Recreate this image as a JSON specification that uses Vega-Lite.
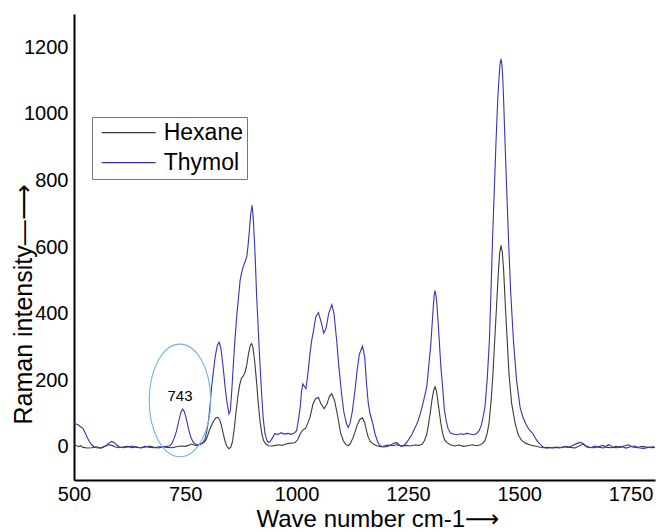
{
"$schema":"https://vega.github.io/schema/vega-lite/v6.json",
"width":581,"height":466,"autosize":"none",
"padding":{"left":74,"top":14,"right":2,"bottom":52},
"config":{"view":{"stroke":null},"font":"Liberation Sans"},
"datasets":{
"hexane":[
{"w":500,"i":6},{"w":505,"i":4},{"w":510,"i":0},{"w":515,"i":3},{"w":520,"i":-2},{"w":530,"i":-4},{"w":540,"i":-3},{"w":550,"i":0},{"w":560,"i":-4},{"w":570,"i":2},{"w":578,"i":6},{"w":585,"i":4},{"w":592,"i":0},{"w":600,"i":-3},{"w":610,"i":-1},{"w":620,"i":1},{"w":630,"i":-3},{"w":640,"i":0},{"w":650,"i":-4},{"w":660,"i":-1},{"w":670,"i":2},{"w":680,"i":-2},{"w":690,"i":-4},{"w":700,"i":0},{"w":710,"i":-2},{"w":720,"i":-3},{"w":730,"i":0},{"w":740,"i":2},{"w":750,"i":1},{"w":757,"i":4},{"w":763,"i":8},{"w":770,"i":5},{"w":776,"i":3},{"w":782,"i":7},{"w":788,"i":10},{"w":793,"i":14},{"w":798,"i":25},{"w":803,"i":45},{"w":808,"i":62},{"w":813,"i":76},{"w":818,"i":86},{"w":823,"i":88},{"w":827,"i":82},{"w":831,"i":65},{"w":835,"i":40},{"w":839,"i":18},{"w":843,"i":2},{"w":848,"i":-6},{"w":852,"i":-2},{"w":856,"i":15},{"w":860,"i":55},{"w":864,"i":105},{"w":868,"i":150},{"w":872,"i":185},{"w":876,"i":206},{"w":880,"i":212},{"w":884,"i":223},{"w":888,"i":245},{"w":892,"i":280},{"w":896,"i":305},{"w":899,"i":310},{"w":902,"i":298},{"w":906,"i":255},{"w":910,"i":195},{"w":914,"i":130},{"w":918,"i":75},{"w":922,"i":38},{"w":926,"i":18},{"w":931,"i":8},{"w":937,"i":3},{"w":945,"i":2},{"w":952,"i":4},{"w":960,"i":6},{"w":968,"i":4},{"w":975,"i":8},{"w":983,"i":10},{"w":990,"i":11},{"w":996,"i":12},{"w":1002,"i":20},{"w":1007,"i":35},{"w":1011,"i":45},{"w":1015,"i":51},{"w":1020,"i":55},{"w":1025,"i":70},{"w":1030,"i":88},{"w":1037,"i":129},{"w":1043,"i":145},{"w":1049,"i":148},{"w":1055,"i":128},{"w":1062,"i":114},{"w":1068,"i":128},{"w":1074,"i":152},{"w":1079,"i":159},{"w":1085,"i":140},{"w":1090,"i":108},{"w":1094,"i":78},{"w":1099,"i":40},{"w":1105,"i":18},{"w":1110,"i":7},{"w":1116,"i":3},{"w":1121,"i":10},{"w":1126,"i":25},{"w":1131,"i":43},{"w":1136,"i":65},{"w":1142,"i":82},{"w":1148,"i":87},{"w":1153,"i":72},{"w":1157,"i":48},{"w":1161,"i":28},{"w":1166,"i":15},{"w":1172,"i":8},{"w":1180,"i":3},{"w":1188,"i":0},{"w":1196,"i":2},{"w":1205,"i":5},{"w":1215,"i":3},{"w":1225,"i":6},{"w":1235,"i":2},{"w":1245,"i":4},{"w":1255,"i":2},{"w":1265,"i":5},{"w":1275,"i":4},{"w":1282,"i":8},{"w":1287,"i":18},{"w":1292,"i":35},{"w":1296,"i":65},{"w":1300,"i":100},{"w":1304,"i":140},{"w":1308,"i":170},{"w":1311,"i":180},{"w":1314,"i":168},{"w":1317,"i":140},{"w":1320,"i":110},{"w":1324,"i":70},{"w":1328,"i":40},{"w":1332,"i":22},{"w":1337,"i":13},{"w":1345,"i":6},{"w":1355,"i":2},{"w":1365,"i":5},{"w":1375,"i":1},{"w":1385,"i":3},{"w":1395,"i":6},{"w":1405,"i":3},{"w":1412,"i":6},{"w":1418,"i":10},{"w":1423,"i":18},{"w":1428,"i":40},{"w":1432,"i":69},{"w":1437,"i":140},{"w":1441,"i":219},{"w":1445,"i":320},{"w":1449,"i":419},{"w":1453,"i":520},{"w":1456,"i":580},{"w":1459,"i":605},{"w":1462,"i":585},{"w":1465,"i":530},{"w":1469,"i":419},{"w":1473,"i":320},{"w":1477,"i":219},{"w":1483,"i":130},{"w":1491,"i":69},{"w":1498,"i":35},{"w":1506,"i":18},{"w":1515,"i":10},{"w":1525,"i":5},{"w":1535,"i":2},{"w":1545,"i":-1},{"w":1555,"i":-3},{"w":1565,"i":-2},{"w":1575,"i":-4},{"w":1585,"i":-1},{"w":1595,"i":-3},{"w":1605,"i":1},{"w":1615,"i":-2},{"w":1625,"i":-4},{"w":1635,"i":2},{"w":1643,"i":8},{"w":1650,"i":2},{"w":1658,"i":-2},{"w":1668,"i":-3},{"w":1678,"i":0},{"w":1688,"i":4},{"w":1697,"i":-2},{"w":1707,"i":-3},{"w":1717,"i":1},{"w":1727,"i":-2},{"w":1737,"i":3},{"w":1745,"i":6},{"w":1755,"i":-1},{"w":1765,"i":-3},{"w":1775,"i":1},{"w":1785,"i":-1},{"w":1795,"i":-3},{"w":1805,"i":-2}
],
"thymol":[
{"w":500,"i":70},{"w":505,"i":68},{"w":510,"i":65},{"w":515,"i":60},{"w":520,"i":55},{"w":525,"i":42},{"w":530,"i":27},{"w":535,"i":14},{"w":540,"i":5},{"w":545,"i":0},{"w":550,"i":-3},{"w":558,"i":-4},{"w":565,"i":-2},{"w":572,"i":3},{"w":578,"i":10},{"w":584,"i":16},{"w":590,"i":13},{"w":596,"i":5},{"w":602,"i":-1},{"w":610,"i":-3},{"w":620,"i":-1},{"w":630,"i":2},{"w":640,"i":-2},{"w":650,"i":-3},{"w":660,"i":1},{"w":670,"i":-2},{"w":680,"i":-3},{"w":690,"i":0},{"w":700,"i":-1},{"w":708,"i":1},{"w":715,"i":3},{"w":720,"i":10},{"w":725,"i":25},{"w":730,"i":46},{"w":735,"i":75},{"w":740,"i":103},{"w":744,"i":113},{"w":748,"i":105},{"w":752,"i":85},{"w":757,"i":55},{"w":762,"i":30},{"w":767,"i":15},{"w":772,"i":8},{"w":778,"i":5},{"w":785,"i":8},{"w":790,"i":13},{"w":794,"i":22},{"w":798,"i":45},{"w":802,"i":78},{"w":806,"i":130},{"w":809,"i":178},{"w":813,"i":225},{"w":817,"i":269},{"w":822,"i":305},{"w":826,"i":314},{"w":830,"i":295},{"w":835,"i":239},{"w":839,"i":185},{"w":843,"i":138},{"w":848,"i":99},{"w":851,"i":108},{"w":854,"i":160},{"w":858,"i":249},{"w":862,"i":330},{"w":866,"i":400},{"w":870,"i":455},{"w":873,"i":499},{"w":877,"i":525},{"w":880,"i":541},{"w":884,"i":555},{"w":888,"i":570},{"w":891,"i":605},{"w":894,"i":650},{"w":897,"i":700},{"w":900,"i":725},{"w":903,"i":680},{"w":907,"i":569},{"w":910,"i":460},{"w":914,"i":349},{"w":918,"i":240},{"w":922,"i":148},{"w":925,"i":85},{"w":929,"i":39},{"w":933,"i":20},{"w":936,"i":13},{"w":940,"i":15},{"w":945,"i":25},{"w":951,"i":39},{"w":958,"i":37},{"w":965,"i":42},{"w":972,"i":38},{"w":980,"i":40},{"w":988,"i":37},{"w":995,"i":41},{"w":1000,"i":48},{"w":1004,"i":80},{"w":1008,"i":118},{"w":1011,"i":165},{"w":1014,"i":189},{"w":1018,"i":180},{"w":1021,"i":174},{"w":1025,"i":215},{"w":1030,"i":279},{"w":1034,"i":320},{"w":1038,"i":349},{"w":1043,"i":390},{"w":1049,"i":403},{"w":1055,"i":375},{"w":1061,"i":341},{"w":1066,"i":355},{"w":1072,"i":400},{"w":1079,"i":427},{"w":1084,"i":400},{"w":1090,"i":319},{"w":1095,"i":240},{"w":1101,"i":159},{"w":1106,"i":105},{"w":1112,"i":69},{"w":1116,"i":58},{"w":1120,"i":70},{"w":1125,"i":105},{"w":1131,"i":168},{"w":1136,"i":230},{"w":1141,"i":278},{"w":1148,"i":302},{"w":1153,"i":270},{"w":1157,"i":190},{"w":1161,"i":130},{"w":1165,"i":99},{"w":1170,"i":75},{"w":1176,"i":39},{"w":1182,"i":15},{"w":1186,"i":5},{"w":1191,"i":0},{"w":1197,"i":-1},{"w":1203,"i":1},{"w":1210,"i":4},{"w":1218,"i":10},{"w":1225,"i":12},{"w":1230,"i":6},{"w":1235,"i":1},{"w":1240,"i":3},{"w":1245,"i":10},{"w":1250,"i":18},{"w":1255,"i":28},{"w":1260,"i":40},{"w":1265,"i":55},{"w":1269,"i":65},{"w":1273,"i":78},{"w":1278,"i":100},{"w":1282,"i":120},{"w":1287,"i":148},{"w":1292,"i":178},{"w":1295,"i":215},{"w":1298,"i":260},{"w":1301,"i":300},{"w":1304,"i":360},{"w":1307,"i":420},{"w":1309,"i":455},{"w":1311,"i":469},{"w":1313,"i":455},{"w":1315,"i":430},{"w":1318,"i":370},{"w":1320,"i":329},{"w":1324,"i":240},{"w":1328,"i":178},{"w":1332,"i":110},{"w":1336,"i":78},{"w":1340,"i":55},{"w":1345,"i":42},{"w":1352,"i":38},{"w":1360,"i":36},{"w":1368,"i":39},{"w":1375,"i":37},{"w":1382,"i":40},{"w":1390,"i":38},{"w":1397,"i":36},{"w":1404,"i":39},{"w":1410,"i":48},{"w":1415,"i":65},{"w":1419,"i":90},{"w":1423,"i":118},{"w":1428,"i":200},{"w":1433,"i":319},{"w":1436,"i":440},{"w":1440,"i":620},{"w":1444,"i":770},{"w":1448,"i":920},{"w":1452,"i":1050},{"w":1455,"i":1115},{"w":1457,"i":1150},{"w":1459,"i":1165},{"w":1461,"i":1150},{"w":1463,"i":1110},{"w":1465,"i":1040},{"w":1468,"i":920},{"w":1472,"i":770},{"w":1476,"i":620},{"w":1481,"i":460},{"w":1487,"i":319},{"w":1494,"i":200},{"w":1502,"i":118},{"w":1508,"i":90},{"w":1515,"i":68},{"w":1522,"i":52},{"w":1531,"i":39},{"w":1538,"i":22},{"w":1545,"i":10},{"w":1552,"i":1},{"w":1560,"i":-4},{"w":1570,"i":-3},{"w":1580,"i":-2},{"w":1590,"i":-4},{"w":1600,"i":0},{"w":1610,"i":-2},{"w":1620,"i":4},{"w":1630,"i":10},{"w":1638,"i":13},{"w":1645,"i":8},{"w":1650,"i":0},{"w":1660,"i":-3},{"w":1670,"i":2},{"w":1680,"i":-2},{"w":1690,"i":-4},{"w":1700,"i":6},{"w":1705,"i":4},{"w":1710,"i":-2},{"w":1720,"i":-3},{"w":1730,"i":1},{"w":1740,"i":-4},{"w":1750,"i":0},{"w":1760,"i":2},{"w":1770,"i":-4},{"w":1780,"i":-5},{"w":1790,"i":-2},{"w":1800,"i":0},{"w":1805,"i":-2}
],
"note":[{"w":738,"i":139,"ly":152,"label":"743"}]
},
"layer":[
{"data":{"name":"hexane"},"transform":[{"calculate":"'Hexane'","as":"s"}],"mark":{"type":"line","strokeWidth":1.1},
"encoding":{
"x":{"field":"w","type":"quantitative","scale":{"domain":[500,1805],"nice":false,"zero":false},
"axis":{"values":[500,750,1000,1250,1500,1750],"format":"d","ticks":false,"grid":false,"domainColor":"#000","domainWidth":2,"labelFontSize":20,"labelColor":"#000","labelPadding":4,"labelFlush":false,"labelOverlap":false,"labelBound":false,"title":"Wave number cm-1⟶","titleFont":"Liberation Sans, DejaVu Sans","titleFontSize":24,"titleFontWeight":"normal","titleColor":"#000","titleAlign":"left","titleX":182,"titleY":46,"titleBaseline":"alphabetic"}},
"y":{"field":"i","type":"quantitative","scale":{"domain":[-100,1300],"nice":false,"zero":false},
"axis":{"values":[0,200,400,600,800,1000,1200],"format":"d","ticks":false,"grid":false,"domainColor":"#000","domainWidth":2,"labelFontSize":20,"labelColor":"#000","labelPadding":6,"labelOverlap":false,"labelBound":false,"title":"Raman intensity—⟶","titleFont":"Liberation Sans, DejaVu Sans","titleFontSize":25,"titleFontWeight":"normal","titleColor":"#000","titleAngle":-90,"titleAlign":"left","titleX":-43,"titleY":410,"titleBaseline":"alphabetic"}},
"color":{"field":"s","type":"nominal","scale":{"domain":["Hexane","Thymol"],"range":["#3a3a3a","#3535b0"]},
"legend":{"orient":"none","legendX":18,"legendY":103,"title":null,"symbolType":"stroke","symbolSize":2916,"symbolStrokeWidth":1.2,"labelFontSize":23,"labelFont":"Liberation Sans","labelColor":"#000","strokeColor":"#777","fillColor":"#fff","padding":4,"clipHeight":23.4,"rowPadding":6,"symbolOffset":4.7,"labelOffset":7}}
}},
{"data":{"name":"thymol"},"transform":[{"calculate":"'Thymol'","as":"s"}],"mark":{"type":"line","strokeWidth":1.1},
"encoding":{
"x":{"field":"w","type":"quantitative"},
"y":{"field":"i","type":"quantitative"},
"color":{"field":"s","type":"nominal"}
}},
{"data":{"name":"note"},"mark":{"type":"point","shape":"M 0.545 0 C 0.545 0.5523 0.301 1 0 1 C -0.301 1 -0.545 0.5523 -0.545 0 C -0.545 -0.5523 -0.301 -1 0 -1 C 0.301 -1 0.545 -0.5523 0.545 0 Z","size":12700,"filled":false,"stroke":"#74b3e6","strokeWidth":1.1,"opacity":1},
"encoding":{"x":{"field":"w","type":"quantitative"},"y":{"field":"i","type":"quantitative"}}},
{"data":{"name":"note"},"mark":{"type":"text","fontSize":15,"color":"#000","font":"Liberation Sans"},
"encoding":{"x":{"field":"w","type":"quantitative"},"y":{"field":"ly","type":"quantitative"},"text":{"field":"label"}}}
]
}
